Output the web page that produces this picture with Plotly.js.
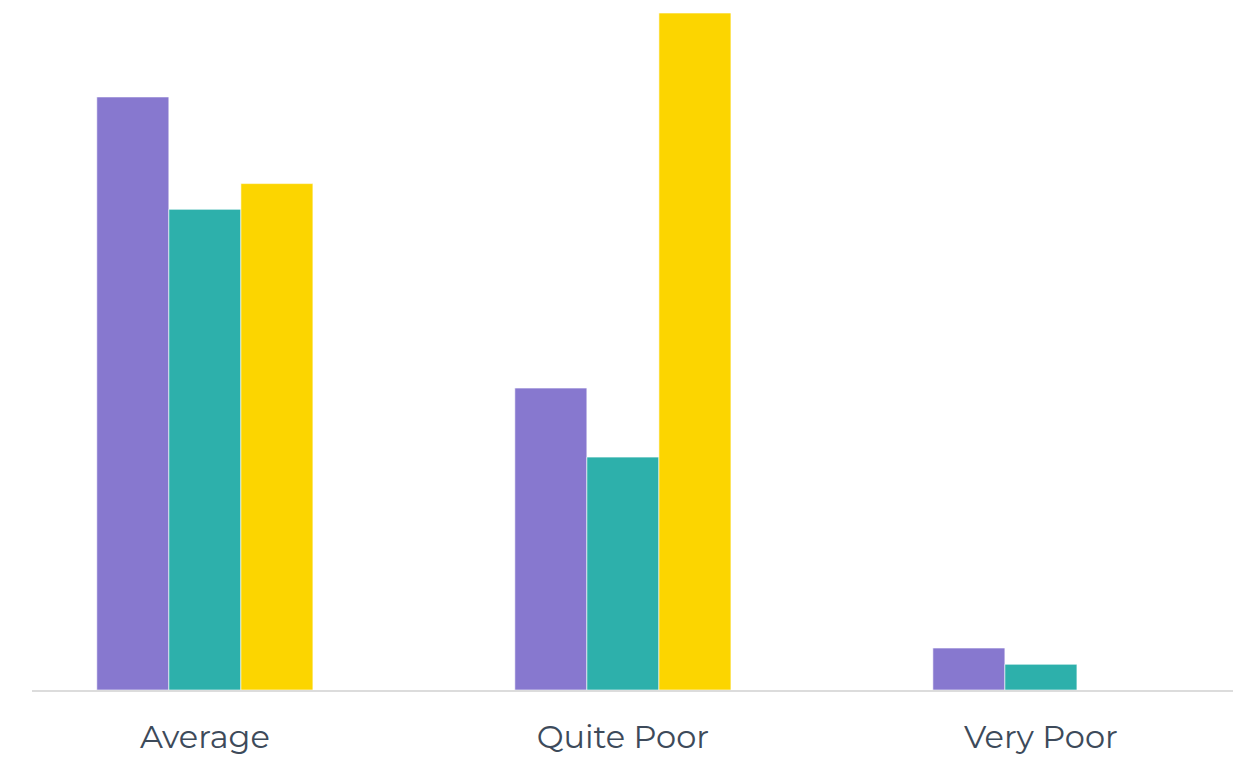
<!DOCTYPE html>
<html><head><meta charset="utf-8">
<script src="https://cdn.plot.ly/plotly-3.0.1.min.js"></script>
<style>html,body{margin:0;padding:0;background:#fff}#chart{width:1241px;height:757px}</style>
</head><body><div id="chart"></div>
<script>
const categories = ["Average", "Quite Poor", "Very Poor"];
const seriesA = [43.8, 22.3, 3.1];
const seriesB = [35.5, 17.2, 1.9];
const seriesC = [37.4, 50.0, 0];
const colors = ["#8778cf", "#2db0ab", "#fcd500"];

const traces = [seriesA, seriesB, seriesC].map((vals, i) => ({
  type: "bar", x: categories, y: vals,
  marker: {color: colors[i], line: {color: "rgba(255,255,255,0.6)", width: 1}},
  hoverinfo: "x+y", showlegend: false
}));

const layout = {
  width: 1241, height: 757,
  margin: {l: 32, r: 8, t: 13, b: 67},
  paper_bgcolor: "#fff", plot_bgcolor: "#fff",
  barmode: "group", bargap: 0.483, bargroupgap: 0,
  xaxis: {
    type: "category", range: [-0.4135, 2.4595],
    showline: true, linecolor: "#dcdcdc", linewidth: 2,
    showgrid: false, zeroline: false, ticks: "",
    ticklabelstandoff: 18,
    tickfont: {family: "Montserrat, 'Open Sans', sans-serif", size: 32, color: "#3d4a5a"}
  },
  yaxis: {range: [0, 50], visible: false, showgrid: false, zeroline: false}
};
Plotly.newPlot("chart", traces, layout, {displayModeBar: false, staticPlot: true});
</script></body></html>
